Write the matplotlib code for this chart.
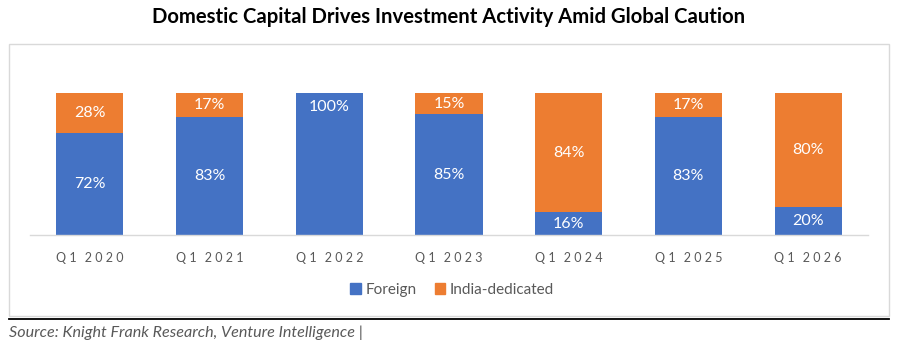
import numpy as np
import matplotlib.pyplot as plt
from matplotlib.patches import Rectangle, Patch
from matplotlib.lines import Line2D

plt.rcParams['font.family'] = ['Lato', 'DejaVu Sans']

quarters = ['Q1 2020', 'Q1 2021', 'Q1 2022', 'Q1 2023', 'Q1 2024', 'Q1 2025', 'Q1 2026']
foreign = [72, 83, 100, 85, 16, 83, 20]
india_dedicated = [28, 17, 0, 15, 84, 17, 80]

blue = '#4472C4'
orange = '#ED7D31'

W, H = 897, 343
fig = plt.figure(figsize=(W / 100, H / 100), dpi=100)

# outer chart frame and the rule under it
fig.patches.append(Rectangle((9 / W, 1 - 316 / H), 880 / W, 272 / H, transform=fig.transFigure,
                             fill=False, edgecolor='#D9D9D9', linewidth=1.0))
fig.lines.append(Line2D([9 / W, 889 / W], [1 - 318.5 / H] * 2, transform=fig.transFigure,
                        color='black', linewidth=1.3))

ax = fig.add_axes([30 / W, 1 - 235 / H, 838 / W, 142 / H])
x = np.arange(len(quarters))
ax.bar(x, foreign, width=0.56, color=blue, zorder=2)
ax.bar(x, india_dedicated, width=0.56, bottom=foreign, color=orange, zorder=2)

for i in range(len(quarters)):
    f, d = foreign[i], india_dedicated[i]
    fy = f / 2 if f < 100 else 90
    ax.text(i, fy, f'{f}%', ha='center', va='center', color='white', fontsize=11.5)
    if d > 0:
        ax.text(i, f + d / 2, f'{d}%', ha='center', va='center', color='white', fontsize=11.5)

ax.set_xlim(-0.5, len(quarters) - 0.5)
ax.set_ylim(0, 100)
ax.set_yticks([])
for s in ['top', 'left', 'right']:
    ax.spines[s].set_visible(False)
ax.spines['bottom'].set_color('#D9D9D9')
ax.spines['bottom'].set_linewidth(1.0)
ax.set_xticks(x)
# letter-spaced category labels
spaced = [' '.join(q.split()[0]) + ' \u2009 ' + ' '.join(q.split()[1]) for q in quarters]
ax.set_xticklabels(spaced, fontsize=9, color='#595959')
ax.tick_params(axis='x', length=0, pad=12)

fig.text(449 / W, 1 - 17 / H, 'Domestic Capital Drives Investment Activity Amid Global Caution',
         ha='center', va='center', fontsize=14.6, fontweight='bold', color='black')

handles = [Patch(color=blue, label='Foreign'), Patch(color=orange, label='India-dedicated')]
fig.legend(handles=handles, loc='center', bbox_to_anchor=(452 / W, 1 - 290 / H), ncol=2,
           frameon=False, fontsize=11, labelcolor='#595959', handlelength=0.7, handleheight=0.7,
           handletextpad=0.3, columnspacing=1.2)

fig.text(9 / W, 1 - 333 / H, 'Source: Knight Frank Research, Venture Intelligence |',
         ha='left', va='center', fontsize=11.6, style='italic', color='#595959')

fig.savefig('out.png', dpi=100)
